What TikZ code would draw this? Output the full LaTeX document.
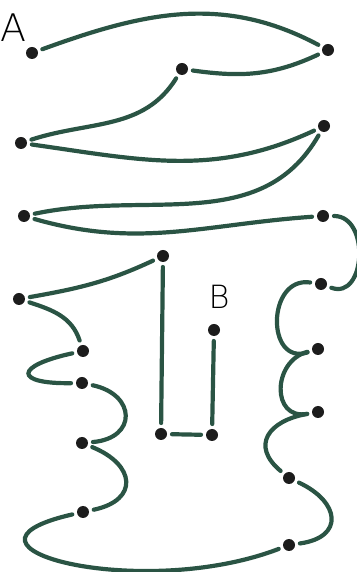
\documentclass[tikz,border=0pt]{standalone}
\usepackage{fontspec}
\newfontfamily\handfont{DejaVu Sans ExtraLight}
\definecolor{inkgreen}{HTML}{2A5444}
\definecolor{inkdot}{HTML}{1C1C1C}
\begin{document}
\begin{tikzpicture}[x=1pt, y=1pt,
        dot/.style={circle, fill=inkdot, inner sep=0pt, minimum size=12pt, outer sep=5pt},
        wire/.style={inkgreen, line width=4.2pt, line cap=round},
        letter/.style={font=\handfont\fontsize{38}{38}\selectfont, inner sep=0pt}]
        \useasboundingbox (0,0) rectangle (356,572);

        % Points along the path
        \node[dot] (a) at (32,519) {};
        \node[dot] (b) at (328,522) {};
        \node[dot] (c) at (182,503) {};
        \node[dot] (d) at (21,429) {};
        \node[dot] (e) at (324,446) {};
        \node[dot] (f) at (24,356) {};
        \node[dot] (g) at (323,356) {};
        \node[dot] (h) at (321,288) {};
        \node[dot] (i) at (318,223) {};
        \node[dot] (j) at (318,160) {};
        \node[dot] (k) at (289,94) {};
        \node[dot] (l) at (289,27) {};
        \node[dot] (m) at (83,60) {};
        \node[dot] (n) at (82,129) {};
        \node[dot] (o) at (82,189) {};
        \node[dot] (p) at (83,221) {};
        \node[dot] (q) at (19,273) {};
        \node[dot] (r) at (163,316) {};
        \node[dot] (s) at (161,138) {};
        \node[dot] (t) at (212,137) {};
        \node[dot] (u) at (214,242) {};

        % Labels
        \node[letter] (labA) at (13,544) {A};
        \node[letter, font=\handfont\fontsize{32}{32}\selectfont] (labB) at (219,275) {B};

        % Top zig-zag
        \draw[wire] (a) to[out=20, in=152] (b);
        \draw[wire] (b) to[out=205, in=-8] (c);
        \draw[wire] (c) to[out=238, in=18] (d);
        \draw[wire] (d) to[out=-8, in=205] (e);
        \draw[wire] (e) to[out=240, in=12] (f);
        \draw[wire] (f) to[out=-16, in=184] (g);

        % Right side waves
        \draw[wire] (g) to[out=0, in=-20, looseness=1.3] (h);
        \draw[wire] (h) to[out=172, in=198, looseness=1.6] (i);
        \draw[wire] (i) to[out=195, in=190, looseness=1.5] (j);
        \draw[wire] (j) to[out=190, in=140, looseness=1.6] (k);
        \draw[wire] (k) to[out=-25, in=8, looseness=1.9] (l);

        % Bottom loop
        \draw[wire] (l) .. controls (140,-30) and (-70,25) .. (m);

        % Left side waves
        \draw[wire] (m) to[out=12, in=-22, looseness=1.9] (n);
        \draw[wire] (n) to[out=5, in=-12, looseness=2.0] (o);
        \draw[wire] (o) .. controls (14,188) and (14,206) .. (p);
        \draw[wire] (p) to[out=108, in=-18] (q);
        \draw[wire] (q) to[out=10, in=205] (r);

        % Inner hook to B
        \draw[wire] (r) -- (s);
        \draw[wire] (s) -- (t);
        \draw[wire] (t) -- (u);
\end{tikzpicture}
\end{document}
